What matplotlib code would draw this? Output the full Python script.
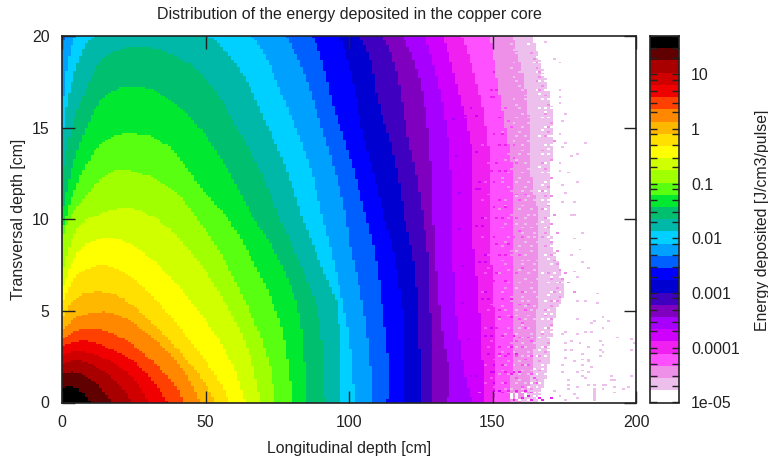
import numpy as np
import matplotlib
matplotlib.use("Agg")
import matplotlib.pyplot as plt
from matplotlib.colors import ListedColormap, BoundaryNorm
from matplotlib.path import Path
from matplotlib.ticker import LogLocator, NullFormatter, FixedLocator, FixedFormatter

plt.rcParams['font.family'] = ['Liberation Sans', 'DejaVu Sans']

title = "Distribution of the energy deposited in the copper core"
xlabel = "Longitudinal depth [cm]"
ylabel = "Transversal depth [cm]"
cblabel = "Energy deposited [J/cm3/pulse]"
xticks = [0, 50, 100, 150, 200]
yticks = [0, 5, 10, 15, 20]
cb_ticks = [1e-5, 1e-4, 1e-3, 1e-2, 1e-1, 1, 10]
cb_labels = ["1e-05", "0.0001", "0.001", "0.01", "0.1", "1", "10"]
cb_top = 50

band_colors = ["#ffffff", "#ecbfec", "#ee90e8", "#ff50ff", "#f020f0", "#d000ff", "#a800ff", "#8000c0",
               "#4000c0", "#0000d0", "#0000ff", "#0060ff", "#00a0ff", "#00d0ff", "#00b8a8", "#00c070",
               "#00e830", "#58ff10", "#a0ff00", "#d0ff00", "#ffff00", "#ffe000", "#ffb800", "#ff8800",
               "#ff4000", "#f00000", "#d00000", "#a80000", "#600000", "#000000"]

# outer edge of every band, (longitudinal, transversal) in cm
edge_01 = [(0,20),(163.6,20),(166.5,18.7),(170,16.7),(171.2,14.5),(169.5,11.8),(170,9.95),(171.2,8.4),(174,7),(175,6),(172,5),(170,3),(169,1.5),(165.4,0)]
edge_02 = [(0,20),(157.2,20),(161.9,16.7),(163.6,12.1),(166,9.95),(165.4,4.75),(163.1,1.1),(159.6,0)]
edge_03 = [(0,20),(149.1,20),(152.6,16.7),(157.2,12.1),(156.7,9.95),(157.3,4.75),(156,0)]
edge_04 = [(0,20),(139.3,20),(145.7,16.7),(149,13),(148.6,9.95),(150.3,5.7),(151.5,1.1),(149.7,0)]
edge_05 = [(0,20),(132.8,20),(138.7,16.7),(143.3,13),(142.7,9.95),(144.7,6.6),(146.8,1.5),(146.8,0)]
edge_06 = [(0,20),(126.5,20),(131.7,17),(135.2,13.4),(135.8,9.95),(137.5,4.75),(140.9,1.1),(143.3,0)]
edge_07 = [(0,20),(118.9,20),(124.7,17.6),(128.2,14),(129.4,9.95),(131.8,4.75),(133.5,2.9),(135.2,1.1),(134,0)]
edge_08 = [(0,20),(112,20),(116.6,18.1),(120,14.9),(123.6,12.3),(126,9.95),(128.2,6.9),(128.8,0)]
edge_09 = [(0,20),(103.8,20),(107.9,18.5),(109.7,16.7),(114.3,14.3),(117.8,11.8),(119.5,9.95),(122.4,7.85),(124.2,4.75),(124.7,0)]
edge_10 = [(0,20),(96.9,20),(100.3,18.3),(104.4,15),(108.5,12.5),(112.5,9.95),(115.5,8.2),(119,4.2),(119.5,0)]
edge_11 = [(0,20),(87,20),(89.9,19.1),(94.5,16.2),(99.8,13.7),(103.8,11.4),(106.2,9.95),(109,8.2),(112,4.75),(114.3,1.1),(113.1,0)]
edge_12 = [(0,19.3),(1,20),(77.1,20),(80.6,19.3),(85.2,17.6),(91,14.7),(95.7,12.3),(99.2,9.95),(100.3,8.6),(103.8,6.2),(106.7,3.3),(108.5,0)]
edge_13 = [(0,15.6),(0.5,16.7),(1.6,18.2),(5.1,20),(65.5,20),(71.3,18.8),(76,17),(83,14.4),(87.6,12.2),(91,10),(92.2,9.3),(95.7,6.94),(99.8,3.84),(100.8,2.4),(102,0)]
edge_14 = [(0,14.4),(2.2,16.7),(6.9,19.1),(11.5,20),(50.4,20),(56.2,19.3),(64.3,17.6),(70,15.6),(78.3,12.7),(84,10),(92.2,6.76),(96.3,4.75),(96.6,0)]
edge_15 = [(0,12.5),(2.8,14.7),(7.4,16.7),(12.1,18.3),(17.9,19.15),(28.3,19.4),(40,18.87),(51.6,17.4),(62,14.7),(70,12.3),(76,10),(85.2,6.76),(89.9,4.2),(91.6,0)]
edge_16 = [(0,10.2),(1.6,11.6),(5.1,13.6),(10.3,15.6),(15.6,16.8),(26,17.23),(37.6,16.5),(50.4,14.5),(60.9,11.8),(67,10),(76,7.67),(83,4.57),(85.5,0)]
edge_17 = [(0,9.4),(1,9.95),(3.9,11.4),(8.6,13),(14.4,14.2),(24.3,14.68),(37.6,13.95),(48,11.77),(58,10),(66.7,7.67),(76,4.39),(78.9,2),(80.3,0)]
edge_18 = [(0,9),(2.2,9.95),(6.3,10.85),(14.4,12.3),(23.1,12.68),(38.8,11.58),(47.2,10),(55,8.2),(65.5,4.94),(72.5,2),(74.2,0)]
edge_19 = [(0,7.1),(2.2,8.4),(6.3,9.67),(11.7,10.2),(22.5,10.6),(33.3,10),(45.8,8.03),(57.4,5.3),(65.5,2.57),(69.2,0)]
edge_20 = [(0,6.2),(5.1,8.12),(12.1,8.85),(19,8.94),(28.3,8.2),(38.8,6.67),(50.4,4.39),(59.7,2),(63.9,0)]
edge_21 = [(0,5.39),(3.9,6.76),(9.8,7.34),(15.6,7.45),(24.9,6.76),(36.5,4.94),(46.9,2.93),(55,1.1),(58.5,0)]
edge_22 = [(0,4.57),(3.9,5.57),(11.5,6.07),(21.4,5.67),(31.8,4.29),(42.3,2.55),(50.4,0.93),(53.3,0)]
edge_23 = [(0,3.84),(2.8,4.39),(9.8,4.88),(19,4.81),(28.3,3.93),(37.6,2.66),(44.6,1.2),(47.9,0)]
edge_24 = [(0,3.39),(2.8,3.75),(9.2,4.03),(17.9,3.75),(27.2,2.84),(36.5,1.48),(40.5,0.66),(42.3,0)]
edge_25 = [(0,3.08),(7.4,3.39),(16.7,2.93),(26,2.11),(33,0.93),(36.8,0)]
edge_26 = [(0,2.62),(6.3,2.79),(14.4,2.44),(21.4,1.84),(27.2,0.84),(30.3,0)]
edge_27 = [(0,2.11),(5.1,2.3),(12.1,1.93),(18.5,1.2),(22.5,0.47),(24,0)]
edge_28 = [(0,1.53),(3.9,1.66),(9.8,1.29),(14.4,0.66),(17.3,0)]
edge_29 = [(0,0.8),(2.2,0.89),(5.7,0.75),(8,0.38),(10.3,0)]
edges = [edge_01, edge_02, edge_03, edge_04, edge_05, edge_06, edge_07, edge_08, edge_09, edge_10,
         edge_11, edge_12, edge_13, edge_14, edge_15, edge_16, edge_17, edge_18, edge_19, edge_20,
         edge_21, edge_22, edge_23, edge_24, edge_25, edge_26, edge_27, edge_28, edge_29]

# isolated cells of the noisy tail, rows of (transversal, longitudinal, longitudinal, ...), by band
tail_band6 = [(17.4,127),(15.4,131,136),(13.4,137),(11.4,138),(9.4,138),(7.4,139),(5.4,139),(3.4,141),(1.4,142,144)]
tail_band5 = [(16,142),(14,146),(12,145),(10,146),(8,147),(6,147),(4,149),(2,150),(1,150),
              (18.6,133),(17.6,135),(15.6,140,144),(13.6,144),(11.6,144,145),(9.6,144,146),(7.6,145,147),(5.6,146,148),(3.6,147,149),(2.6,148),(1.6,149,150),(0.6,150,152)]
tail_band4 = [(18,150),(17,149,151),(15.5,152),(14,152,154),(13,151),(12,150,153),(11,152),(10,151,153),(9,150),(8,152,154),(7,151),(6,153),
              (5,152,154),(4,151,155),(3,152,156),(2.5,154),(2,153,157),(1.5,152,156),(1,154,158),(0.5,153,157,160),(0.2,160,166,170),(0.1,157,163,167),
              (16.6,149,150),(14.6,150,153),(12.6,149,152,154),(10.6,150,154),(8.6,151,155),(6.6,150,154),(5.6,153,156),(4.6,152,156),(3.6,153,157),(2.6,152,155,158),
              (1.6,154,157,159),(0.6,155,158,161),(0.3,156,162)]
tail_band3 = [(19,146),(18,145),(17,147),(16,148,154),(15,149,156),(14,146,157),(13,148,158),(12,147,158),(11,146,159),(10,147,158),(9,146,157,160),
              (8,148,159),(7,147,158),(6,146,160),(5,148,158,161),(4.5,159),(4,147,161),(3.5,159,162),(3,148,160),(2.5,158,163),(2,147,160,162),
              (1.5,159,163),(1,147,161,165),(0.5,145,158,163),
              (19.3,147),(17.3,148),(15.3,150,155),(13.3,149,157),(11.3,148,158,161),(9.3,149,159),(7.3,148,160),(5.3,149,159,162),(4.3,160),(3.3,149,158,163),
              (2.3,150,161),(1.3,149,158,164),(0.8,150,160)]
tail_band2 = [(19,163),(18.5,154,165),(18,152,156,166),(17.5,155,165),(17,153,166),(16.5,155,167),(16,153,157,168),(15.5,156,167),(15,154,169),(14.5,156,168),
              (14,158,168,170),(13.5,155,169),(13,157,167),(12.5,155,169),(12,153,168),(11.5,156,167),(11,154,169),(10.5,152,167,170),(10,155,168),(9.5,153,169),
              (9,155,167,171),(8.5,153,168,172),(8,156,170),(7.5,154,172),(7,152,169,175),(6.5,155,173,176),(6,153,171,178),(5.5,156,170,172),(5,154,168),
              (4.5,152,167,170),(4,155,169),(3.5,153,166),(3,155,168),(2.5,152,166),(2,154,167),(1.5,152,155,165),(1,153,164),(0.5,150,155,162),
              (19.2,155),(18.7,156,164),(18.2,154,165),(17.7,153,166),(17.2,155,167),(16.7,156,168),(16.2,154,169),(15.7,157,168),(15.2,155,170),(14.7,153,169),
              (14.2,155,171),(13.7,157,167),(13.2,154,170),(12.7,156,168),(12.2,153,170),(11.7,155,169),(11.2,157,168,170),(10.7,154,169),(10.2,156,171),(9.7,154,170),
              (9.2,157,168,172),(8.7,154,170),(8.2,156,172),(7.7,153,171),(7.2,155,173),(6.7,157,170,174),(6.2,154,172),(5.7,156,173),(5.2,153,170),(4.7,155,168),
              (4.2,157,170),(3.7,154,167),(3.2,156,169),(2.7,153,168),(2.2,155,166),(1.7,153,166),(1.2,156,165),(0.7,154,163)]
tail_band1 = [(19.5,156,159),(19,158,160),(18.5,157,161),(18,159),(17.5,158,161),(17,160,162),(16.5,157,161),(16,159,162),(15.5,158,162),(15,160),(14.5,158,161,163),
              (14,160,163),(13.5,159,162),(13,161,163),(12.5,160,164),(12,158,162),(11.5,160,163),(11,161,164),(10.5,159,163),(10,161),(9.5,160,163),(9,162,164),
              (8.5,159,163),(8,161),(7.5,160,164),(7,162),(6.5,159,163),(6,161,164),(5.5,160,162),(5,158,163),(4.5,161,164),(4,159,162),(3.5,160,163),(3,158,161),
              (2.5,160,162),(2,157,161),(1.5,159,162),(1,158,161),(0.5,157),
              (19.2,157,161),(18.7,159,162),(18.2,156,160,163),(17.7,157,162),(17.2,159,164),(16.7,161,163),(16.2,158,164),(15.7,160,164),(15.2,157,162,165),(14.7,159,164),
              (14.2,157,162,165),(13.7,160,164),(13.2,158,163),(12.7,162,165),(12.2,159,164),(11.7,161,165),(11.2,158,162),(10.7,160,165),(10.2,162,164),(9.7,158,161,165),
              (9.2,160,164),(8.7,161,165),(8.2,158,163),(7.7,160,162,165),(7.2,159,164),(6.7,161,165),(6.2,158,163),(5.7,160,165),(5.2,161,164),(4.7,158,162),(4.2,160,165),
              (3.7,158,163),(3.2,160,164),(2.7,157,162),(2.2,159,164),(1.7,157,160,163),(1.2,159,163),(0.7,156,160),
              (19.6,168),(18.7,171),(18.5,173),(17,173),(16.6,173),(16.3,173),(15.7,175),(15.3,174),(14.6,173),(14.1,182,175),(13.9,174),(13.5,179),(13.4,177),
              (13,173),(12.6,173),(12.5,176),(12,179),(11.8,174),(11.4,175),(10.9,178,174),(10.2,177,178),(9.2,181),(8.9,178),(8.3,180),(8,177),(7.6,181),(7.3,183),
              (7.1,178),(6.8,179),(5.9,186),(5.5,182,179),(5.4,186),(4.6,188),(4.5,179),(4.4,185,190),(4.3,184),(4,188),(3.8,182,184,175),(3.7,179,174),(3.5,193),
              (3.4,198),(3.3,187,177),(3.2,199,180,175),(3.1,188),(3,183),(2.8,175,177,198,187),(2.7,188),(2.6,181),(2.5,187),(2.4,175),(2.3,181,183),(2.2,183,178),
              (2,181,174),(1.9,184),(1.7,181),(1.6,179,183,174),(1.4,191,198,181),(1.3,182),(1.2,192,191,176),(0.9,176,183,185,188,189),(0.8,192,197,179),(0.7,185,195,188,176),
              (0.6,185,171),(0.5,185,192),(0.4,185,178),(0.3,185,173),(0.2,185,179),(0.1,185,175)]
tail_holes = [(19.5,162),(18.5,164,166),(18,165,167),(17.5,166,168),(17,165,168,169),(16.5,167,169),(16,166,168,170),(15.5,167,169),(15,168,170),(14.5,166,169,170),(14,168,170),
              (13.5,167,169),(13,168,170),(12.5,167,169),(12,168),(11.5,166,168),(11,167,169),(10.5,168,170),(10,169),(9.5,168,170),(9,169,171),(8.5,170,172),(8,168,171,173),
              (7.5,170,173),(7,167,171,174),(6.5,169,172,174),(6,170,173),(5.5,168,171),(5,169),(4.5,167,169),(4,168,170),(3.5,166,169),(3,167,169),(2.5,165,168),(2,167,169),
              (1.5,165,168),(1,163,166,168),(0.5,160,164,166),(0.4,156,158,161),(0.3,156,158,161,164),(0.2,156,158,165),(0.1,159,162),
              (18.8,165),(17.8,167),(16.8,166,170),(15.8,168,171),(14.8,167,171),(13.8,169),(12.8,166,170),(11.8,167,170),(10.8,169,171),(9.8,167,171),(8.8,170),(7.8,169,172),
              (6.8,170,173),(5.8,169),(4.8,168,170),(3.8,167,170),(2.8,166,169),(1.8,164,167),(0.8,162,165)]
tail_sets = [(tail_band6, 6), (tail_band5, 5), (tail_band4, 4), (tail_band3, 3), (tail_band2, 2), (tail_holes, 0), (tail_band1, 1)]


def smooth_outline(points):
    """Closed outline: a smooth curve through the read points, closed along the axes."""
    p = np.array(points, dtype=float)
    start = 0
    while start + 1 < len(p) and p[start + 1, 1] >= 20 and p[start, 1] >= 20:
        start += 1
    head, p = p[:start], p[start:]
    verts, codes = [tuple(p[0])], [Path.MOVETO]
    tang = np.zeros_like(p)
    tang[1:-1] = p[2:] - p[:-2]
    tang[0], tang[-1] = p[1] - p[0], p[-1] - p[-2]
    tang /= np.linalg.norm(tang, axis=1, keepdims=True)
    for a in range(len(p) - 1):
        d = np.linalg.norm(p[a + 1] - p[a]) / 3
        verts += [tuple(p[a] + tang[a] * d), tuple(p[a + 1] - tang[a + 1] * d), tuple(p[a + 1])]
        codes += [Path.CURVE4] * 3
    line = Path(verts, codes).to_polygons(closed_only=False)[0]
    return Path(np.vstack([head.reshape(-1, 2), line, [[0, 0]], head[:1] if len(head) else p[:1]]))


W, H = 768, 459
fig = plt.figure(figsize=(W / 100, H / 100), dpi=100)
ax = fig.add_axes([62 / W, 1 - 402.5 / H, 574 / W, 366.5 / H])
cax = fig.add_axes([650 / W, 1 - 402.5 / H, 28.5 / W, 366.5 / H])

level_edges = np.logspace(-5, np.log10(cb_top), len(band_colors) + 1)
level_mids = np.sqrt(level_edges[:-1] * level_edges[1:])
cmap = ListedColormap(band_colors)
norm = BoundaryNorm(level_edges, cmap.N)

z_edges = np.arange(0, 201)
r_edges = np.arange(0, 201) * 0.1
zc, rc = np.meshgrid(z_edges[:-1] + 0.5, r_edges[:-1] + 0.05)
pts = np.column_stack([zc.ravel(), rc.ravel()])
band = np.zeros(zc.shape, dtype=int)
for i, e in enumerate(edges, start=1):
    band[smooth_outline(e).contains_points(pts).reshape(zc.shape)] = i
for rows, b in tail_sets:
    for row in rows:
        for z in row[1:]:
            band[min(int(row[0] * 10), 199), min(int(z), 199)] = b

ax.pcolormesh(z_edges, r_edges, level_mids[band], cmap=cmap, norm=norm, shading='flat', antialiased=False, linewidth=0)
ax.set_xlim(0, 200)
ax.set_ylim(0, 20)
ax.set_xticks(xticks)
ax.set_yticks(yticks)
ax.tick_params(direction='in', top=True, right=True, length=9, width=1, labelsize=11.4, colors='#222222', pad=9)
ax.set_xlabel(xlabel, fontsize=11.4, labelpad=8, color='#222222')
ax.set_ylabel(ylabel, fontsize=11.4, labelpad=4, color='#222222')
fig.text(349 / W, 1 - 14 / H, title, ha='center', va='center', fontsize=11.5, color='#222222')

cax.pcolormesh([0, 1], level_edges, level_mids[:, None], cmap=cmap, norm=norm, shading='flat', antialiased=False, linewidth=0)
cax.set_yscale('log')
cax.set_ylim(1e-5, cb_top)
cax.set_xlim(0, 1)
cax.set_xticks([])
cax.yaxis.set_major_locator(FixedLocator(cb_ticks))
cax.yaxis.set_major_formatter(FixedFormatter(cb_labels))
cax.yaxis.set_minor_locator(LogLocator(base=10, subs=(2, 3, 5, 8), numticks=12))
cax.yaxis.set_minor_formatter(NullFormatter())
cax.tick_params(axis='y', which='both', direction='in', left=True, right=True, labelleft=False, labelright=True, length=5, width=1,
                labelsize=11.4, colors='#222222', pad=9)
fig.text(762 / W, 1 - 220 / H, cblabel, rotation=90, ha='center', va='center', fontsize=11.4, color='#222222')

for a in (ax, cax):
    for s in a.spines.values():
        s.set_linewidth(1.2)
        s.set_color('#222222')

fig.savefig('out.png', dpi=100)
